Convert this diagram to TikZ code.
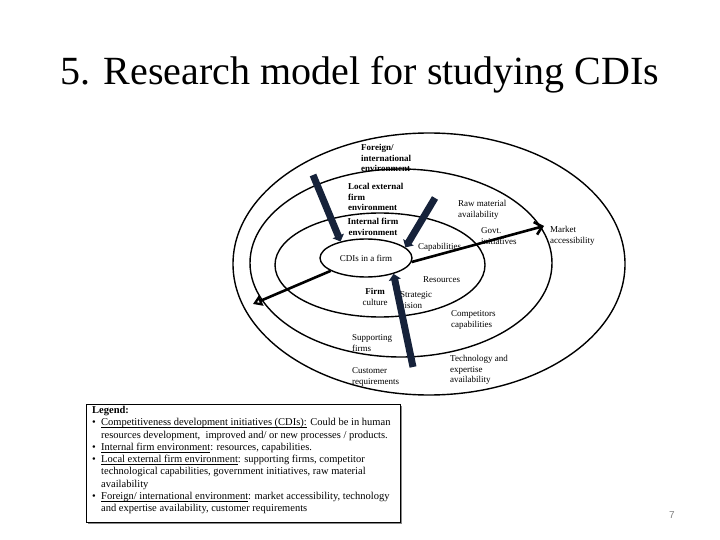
\documentclass[tikz,border=0pt]{standalone}
\usepackage{fontspec}
\setmainfont{Liberation Serif}
\setsansfont{Liberation Sans}
\usetikzlibrary{arrows.meta,shapes.geometric}
\definecolor{barnavy}{HTML}{16223A}
\definecolor{numgray}{HTML}{808080}
\definecolor{shadowgray}{HTML}{8A8A8A}
\newcommand\myul[1]{\setbox0\hbox{#1}\rlap{\vrule width\wd0 height -1.3pt depth 2.0pt}#1}
\begin{document}
\begin{tikzpicture}[x=1pt,y=-1pt,
  ring/.style={draw=black, line width=1.4pt, ellipse, inner sep=0pt},
  lbl/.style={inner sep=0pt, align=left, anchor=west, font=\fontsize{9}{10.7}\selectfont},
  blbl/.style={lbl, font=\fontsize{9}{10.7}\selectfont\bfseries},
  bar/.style={draw=barnavy, line width=7pt, -{Triangle[length=6pt,width=12pt]}},
  thinarrow/.style={draw=black, line width=2.6pt},
]
\useasboundingbox (0,0) rectangle (720,540);

% title
\node[inner sep=0pt, anchor=base, font=\fontsize{40}{48}\selectfont] (title) at (360,85) {5. Research model for studying CDIs};

% rings
\node[ring, minimum width=392pt, minimum height=262pt] (outer) at (429,264) {};
\node[ring, minimum width=302pt, minimum height=188pt] (localring) at (401,263) {};
\node[ring, minimum width=210pt, minimum height=104pt] (internalring) at (380,265) {};
\node[ring, minimum width=92pt, minimum height=38pt, font=\fontsize{9}{10.7}\selectfont] (cdi) at (366,258) {CDIs in a firm};

% labels
\node[blbl] (foreign) at (361,158) {Foreign/\\international\\environment};
\node[blbl] (localext) at (348,197) {Local external\\firm\\environment};
\node[blbl, anchor=center, align=center] (internal) at (373,227) {Internal firm\\environment};
\node[lbl] (raw) at (458,210) {Raw material\\availability};
\node[lbl] (govt) at (481,236) {Govt.\\initiatives};
\node[lbl] (capab) at (418,247) {Capabilities};
\node[lbl] (market) at (550,236) {Market\\accessibility};
\node[lbl] (resources) at (423,280) {Resources};
\node[lbl, anchor=center, align=center] (firmcult) at (375,297) {\textbf{Firm}\\culture};
\node[lbl] (strategic) at (400,300) {Strategic\\vision};
\node[lbl] (compet) at (451,320) {Competitors\\capabilities};
\node[lbl] (supporting) at (352,343) {Supporting\\firms};
\node[lbl] (tech) at (450,370) {Technology and\\expertise\\availability};
\node[lbl] (customer) at (352,377) {Customer\\requirements};

% connectors
\coordinate (bar1s) at (313,175);
\coordinate (bar2s) at (435,198);
\coordinate (bar3s) at (413,367);
\coordinate (marketend) at (544,226);
\coordinate (leftend) at (253,304);
\draw[bar] (bar1s) -- (cdi.147);
\draw[bar] (bar2s) -- (cdi.15);
\draw[bar] (bar3s) -- (cdi.-30);
\draw[thinarrow, -{Straight Barb[length=7pt,width=13pt]}] (cdi.-5) -- (marketend);
\draw[thinarrow, -{Triangle[open,length=9pt,width=11pt]}] (cdi.200) -- (leftend);

% legend
\fill[shadowgray] (88,406) rectangle (402,524);
\node[draw=black, fill=white, line width=1.3pt, minimum width=314pt, minimum height=118pt, anchor=north west, inner sep=0pt] (legbox) at (86,404) {};
\node[inner sep=0pt, anchor=north west, align=left, font=\fontsize{10.5}{12.3}\selectfont] (legtxt) at (92,406) {%
\textbf{Legend:}\\
\makebox[9pt][l]{\textbullet}\myul{Competitiveness development initiatives (CDIs):} Could be in human\\
\hspace*{9pt}resources development,\ \ improved and/ or new processes / products.\\
\makebox[9pt][l]{\textbullet}\myul{Internal firm environment}: resources, capabilities.\\
\makebox[9pt][l]{\textbullet}\myul{Local external firm environment}: supporting firms, competitor\\
\hspace*{9pt}technological capabilities, government initiatives, raw material\\
\hspace*{9pt}availability\\
\makebox[9pt][l]{\textbullet}\myul{Foreign/ international environment}: market accessibility, technology\\
\hspace*{9pt}and expertise availability, customer requirements};

% slide number
\node[inner sep=0pt, font=\sffamily\fontsize{10}{12}\selectfont, text=numgray] (pagenum) at (672,515) {7};
\end{tikzpicture}
\end{document}
